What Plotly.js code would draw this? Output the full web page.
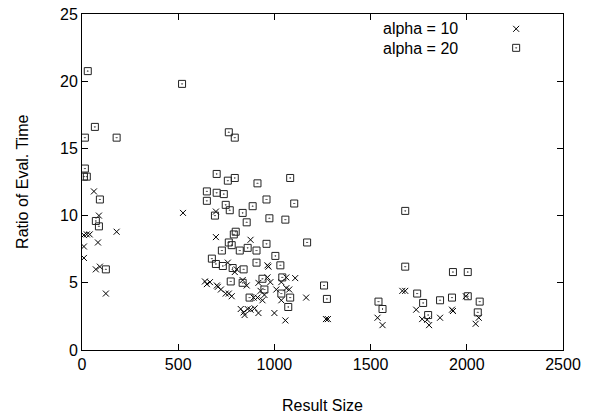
<!DOCTYPE html>
<html><head><meta charset="utf-8">
<script src="https://cdn.plot.ly/plotly-3.0.1.min.js"></script>
<style>body{margin:0;background:#fff}#c{width:592px;height:416px}</style>
</head><body><div id="c"></div>
<script>
const seriesNames = ["alpha = 10", "alpha = 20"];
const xTitle = "Result Size";
const yTitle = "Ratio of Eval. Time";
const a10x = [62,88,10,25,40,10,83,10,72,93,124,180,525,
  696,696,639,649,665,701,706,722,747,778,763,804,794,835,856,825,840,861,876,845,897,892,912,928,938,948,917,964,979,969,1010,1036,1062,1062,1036,1000,1057,917,964,758,876,1108,1077,1165,1268,1278,
  1536,1562,1665,1680,1737,1768,1794,1804,1861,1923,1928,1995,2062,2046];
const a10y = [11.8,10.0,8.55,8.6,8.6,7.7,8.0,6.85,6.0,6.2,4.2,8.8,10.2,
  8.4,10.3,5.1,4.9,5.05,4.8,4.7,4.5,4.2,4.0,4.2,6.0,5.8,5.2,4.8,3.05,2.8,3.05,3.0,2.6,3.1,3.9,3.9,4.4,3.7,4.1,5.0,5.4,5.05,6.2,4.5,5.05,5.4,4.6,3.7,2.75,2.2,2.75,6.3,6.5,8.2,5.35,4.5,3.9,2.3,2.3,
  2.4,1.85,4.4,4.4,3.0,2.3,2.25,1.85,2.4,3.0,2.9,4.0,2.4,1.95];
const a20x = [30,15,67,15,10,25,72,88,93,124,180,520,
  763,794,700,758,794,912,649,700,737,649,747,768,691,835,887,959,974,1057,1082,1103,856,799,789,763,778,861,727,820,675,696,732,783,840,907,959,1005,1031,907,835,773,871,938,948,1036,1082,1072,1041,1170,1273,1258,
  1541,1562,1680,1680,1742,1773,1799,1861,1923,1928,2005,2005,2067,2057];
const a20y = [20.75,15.8,16.6,13.5,12.9,12.9,9.6,9.2,11.2,6.0,15.8,19.8,
  16.2,15.8,13.1,12.6,12.8,12.4,11.8,11.7,11.6,11.1,10.8,10.4,10.0,10.2,10.7,11.2,9.8,9.7,12.8,10.9,9.5,8.8,8.6,8.0,7.8,7.6,7.4,7.4,6.8,6.4,6.25,6.1,6.0,7.4,7.9,7.0,6.3,6.5,5.0,5.1,3.9,5.3,4.5,4.2,3.9,3.2,5.4,8.0,3.8,4.8,
  3.6,3.05,6.2,10.35,4.2,3.5,2.6,3.7,3.9,5.8,4.0,5.8,3.6,2.8];
const xTicks = [0,500,1000,1500,2000,2500];
const yTicks = [0,5,10,15,20,25];

const font = {family: '"Liberation Sans", Arial, sans-serif', size: 16, color: '#000'};
const traces = [
  {x: a10x, y: a10y, type: 'scatter', mode: 'markers', name: '',
   marker: {symbol: 'x-thin-open', size: 6, color: '#000', line: {color: '#000', width: 1}}},
  {x: a20x, y: a20y, type: 'scatter', mode: 'markers', name: '',
   marker: {symbol: 'square-open-dot', size: 7, color: '#222', line: {color: '#222', width: 1}}}
];
const axisBase = {showgrid: false, zeroline: false, showline: true, linecolor: '#000', linewidth: 1,
  mirror: 'ticks', ticks: 'inside', ticklen: 6, tickcolor: '#000', tickfont: font};
const annotations = seriesNames.map((n, i) => ({xref: 'paper', yref: 'paper', x: 0.786, y: 0.958 - i * 0.06,
    xanchor: 'right', yanchor: 'middle', text: n, showarrow: false, font: font}));
annotations.push({xref: 'paper', yref: 'paper', x: 0.5, y: -0.164, xanchor: 'center', yanchor: 'middle',
  text: xTitle, showarrow: false, font: font});
annotations.push({xref: 'paper', yref: 'paper', x: -0.125, y: 0.5, xanchor: 'center', yanchor: 'middle',
  text: yTitle, textangle: -90, showarrow: false, font: font});
const layout = {
  width: 592, height: 416,
  margin: {l: 82, r: 29, t: 14, b: 66},
  paper_bgcolor: '#fff', plot_bgcolor: '#fff',
  font: font,
  showlegend: true,
  legend: {x: 0.861, y: 0.999, xanchor: 'left', yanchor: 'top', bgcolor: 'rgba(0,0,0,0)',
    font: {family: font.family, size: 12}, tracegroupgap: 0, itemwidth: 30},
  xaxis: Object.assign({}, axisBase, {range: [0, 2500], tickvals: xTicks, ticktext: xTicks.map(String)}),
  yaxis: Object.assign({}, axisBase, {range: [0, 25], tickvals: yTicks, ticktext: yTicks.map(String)}),
  annotations: annotations
};
Plotly.newPlot('c', traces, layout, {displayModeBar: false, staticPlot: true});
</script></body></html>
